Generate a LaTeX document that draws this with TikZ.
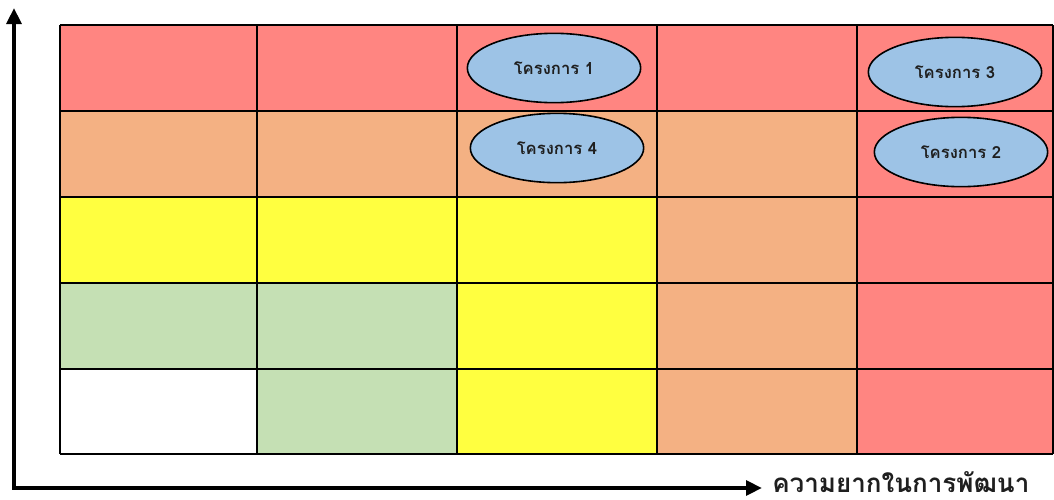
\documentclass[tikz,border=0pt]{standalone}
\usepackage{fontspec}
\newfontfamily\thaifont[Script=Thai]{Loma}
\usetikzlibrary{shapes.geometric,arrows.meta}
\definecolor{cred}{HTML}{FF8581}
\definecolor{corange}{HTML}{F4B183}
\definecolor{cyellow}{HTML}{FFFF40}
\definecolor{cgreen}{HTML}{C5E0B4}
\definecolor{cblue}{HTML}{9DC3E6}
\definecolor{ctext}{HTML}{1F1F1F}
\tikzset{
  cell/.style={draw=black, line width=1.9pt},
  proj/.style={ellipse, draw=black, line width=1.2pt, fill=cblue, minimum width=130pt, minimum height=52pt, inner sep=0pt, font=\thaifont\bfseries\fontsize{12.5}{14}\selectfont, text=ctext},
  axis/.style={line width=3pt, -{Triangle[length=12pt,width=11pt]}},
}
\begin{document}
\begin{tikzpicture}[x=0.75pt,y=-0.75pt]
\useasboundingbox (0,0) rectangle (1054,500);
% grid
\def\cx{{60,257,457,657,857,1053}}
\foreach \c [count=\i from 0] in {
  {cred,cred,cred,cred,cred},
  {corange,corange,corange,corange,cred},
  {cyellow,cyellow,cyellow,corange,cred},
  {cgreen,cgreen,cyellow,corange,cred},
  {white,cgreen,cyellow,corange,cred}}{
  \foreach \col [count=\j from 0] in \c {
    \pgfmathsetmacro{\xa}{\cx[\j]}
    \pgfmathsetmacro{\xb}{\cx[\j+1]}
    \pgfmathsetmacro{\ya}{25+86*\i}
    \pgfmathsetmacro{\yb}{25+86*(\i+1)}
    \fill[\col] (\xa,\ya) rectangle (\xb,\yb);
  }
}
\foreach \y in {25,111,197,283,369,454} \draw[cell] (60,\y) -- (1053,\y);
\foreach \x in {60,257,457,657,857,1053} \draw[cell] (\x,25) -- (\x,454);
% projects
\node[proj] (p1) at (554,68) {โครงการ 1};
\node[proj] (p4) at (557,148) {โครงการ 4};
\node[proj] (p3) at (955,72) {โครงการ 3};
\node[proj] (p2) at (961,152) {โครงการ 2};
% axes
\coordinate (ytop) at (14,8);
\coordinate (xend) at (762,488);
\draw[axis] (14,489.5) -- (ytop);
\draw[axis] (12.5,488) -- (xend);
\node[anchor=west, font=\thaifont\bfseries\fontsize{19.5}{23}\selectfont, text=ctext, inner sep=0pt] (xlab) at (772,482) {ความยากในการพัฒนา};
\end{tikzpicture}
\end{document}
